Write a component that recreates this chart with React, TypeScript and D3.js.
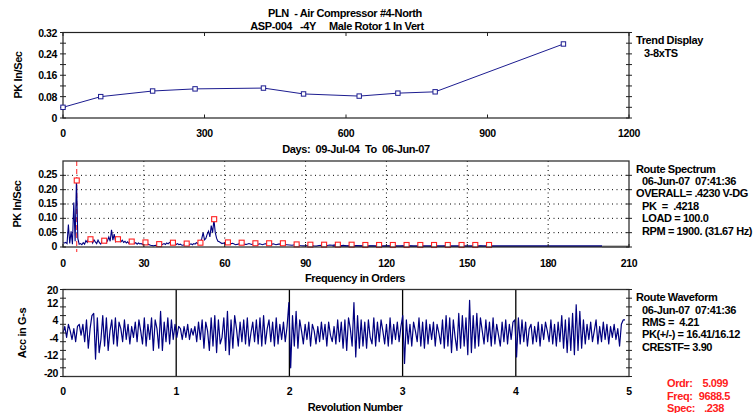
import * as React from "react";
import * as d3 from "d3";

// ---- trend panel data ----
const trendDays = [0, 80, 190, 280, 425, 510, 628, 710, 789, 1061];
const trendPk = [0.04, 0.08, 0.101, 0.109, 0.112, 0.09, 0.082, 0.093, 0.098, 0.277];
const trendYTicks = [0, 0.08, 0.16, 0.24, 0.32];
const trendXTicks = [0, 300, 600, 900, 1200];

// ---- spectrum data (orders 0..60 every 0.5, then 61..200 every 1) ----
const specLow = [
  0.015, 0.014, 0.016, 0.012, 0.078, 0.012, 0.055, 0.01, 0.155, 0.02,
  0.238, 0.03, 0.01, 0.012, 0.008, 0.015, 0.01, 0.022, 0.016, 0.03,
  0.024, 0.028, 0.014, 0.025, 0.018, 0.012, 0.024, 0.015, 0.01, 0.02,
  0.016, 0.025, 0.014, 0.022, 0.035, 0.02, 0.06, 0.024, 0.045, 0.02,
  0.032, 0.022, 0.026, 0.018, 0.024, 0.016, 0.02, 0.014, 0.018, 0.012,
  0.02, 0.014, 0.017, 0.012, 0.015, 0.01, 0.014, 0.011, 0.012, 0.009,
  0.014, 0.015, 0.011, 0.01, 0.008, 0.006, 0.005, 0.004, 0.005, 0.006,
  0.005, 0.007, 0.006, 0.008, 0.01, 0.012, 0.009, 0.014, 0.011, 0.016,
  0.013, 0.015, 0.012, 0.014, 0.009, 0.012, 0.008, 0.01, 0.007, 0.006,
  0.008, 0.01, 0.007, 0.006, 0.009, 0.011, 0.008, 0.012, 0.01, 0.015,
  0.012, 0.016, 0.018, 0.03, 0.05, 0.025, 0.03, 0.045, 0.055, 0.035,
  0.075, 0.05, 0.095, 0.05, 0.03, 0.02, 0.018, 0.015, 0.012, 0.014,
  0.012,
];
const specHigh = [
  0.014, 0.011, 0.013, 0.008, 0.01, 0.013, 0.01, 0.009, 0.012, 0.009,
  0.012, 0.009, 0.011, 0.008, 0.011, 0.012, 0.009, 0.011, 0.008, 0.01,
  0.011, 0.009, 0.008, 0.007, 0.006, 0.008, 0.007, 0.005, 0.004, 0.004,
  0.005, 0.006, 0.004, 0.003, 0.005, 0.006, 0.004, 0.005, 0.007, 0.006,
  0.008, 0.005, 0.004, 0.006, 0.004, 0.003, 0.004, 0.003, 0.005, 0.004,
  0.003, 0.003, 0.002, 0.003, 0.003, 0.002, 0.003, 0.002, 0.002, 0.003,
  0.003, 0.002, 0.003, 0.002, 0.002, 0.003, 0.002, 0.002, 0.003, 0.002,
  0.002, 0.002, 0.003, 0.002, 0.002, 0.002, 0.003, 0.002, 0.002, 0.002,
  0.002, 0.003, 0.002, 0.002, 0.002, 0.002, 0.002, 0.003, 0.002, 0.002,
  0.002, 0.002, 0.002, 0.002, 0.003, 0.002, 0.002, 0.002, 0.002, 0.002,
  0.002, 0.002, 0.002, 0.002, 0.002, 0.002, 0.002, 0.002, 0.002, 0.002,
  0.002, 0.002, 0.002, 0.002, 0.002, 0.002, 0.002, 0.002, 0.002, 0.002,
  0.002, 0.002, 0.002, 0.002, 0.002, 0.002, 0.002, 0.002, 0.002, 0.002,
  0.002, 0.002, 0.002, 0.002, 0.002, 0.002, 0.002, 0.002, 0.002, 0.002,
];
const runOrder = 5.099;
const harmonicAmps = [
  0.232, 0.027, 0.022, 0.027, 0.019, 0.016, 0.01, 0.015, 0.012, 0.015,
  0.097, 0.016, 0.015, 0.013, 0.013, 0.013, 0.009, 0.008, 0.008, 0.008,
  0.008, 0.007, 0.007, 0.007, 0.007, 0.007, 0.007, 0.007, 0.007, 0.007,
  0.007,
];
const specYTicks = [0, 0.05, 0.1, 0.15, 0.2, 0.25];
const specXTicks = [0, 30, 60, 90, 120, 150, 180, 210];

// ---- waveform data (G-s), 5 revolutions ----
const wave = [
  // rev 1
  0, 3, -2, 4, 1, -3, 2, -4, 3, 4, -1, 4, -4, 6, -7, 2, 8, 9, -12, 7, -9, -3, 8, -6,
  7, -8, 1, 6, -5, 7, -6, 5, 2, -4, 6, -3, 4, -5, 3, -2, 5, -4, 6, 1, -5, 7, -6,
  4, -3, 7, -8, 6, 2, -7, 10, -8, 5, -4, 7, -5, 6, -3, 4, -2, 3,
  // rev 2
  2, -3, 3, -2, 4, -3, 2, -1, 3, -4, 5, -3,
  6, -7, 5, 1, -8, 7, -6, 8, -9, 6, -5, -2, 7, -8, 10, -10, 6, -7, 8, 2, -6, 5, -4,
  6, -5, 7, -6, 0, 5, -4, 6, -5, 7, -6, 8, -5, 2, 6, -4, 5, -6, 7, -5, 4, -3, 5, -4, 3, 14, -16,
  // rev 3
  8, -6, 10, -7, 6, 1,
  -5, 4, -3, 5, -6, 4, 1, -5, 3, -4, 5, -3, 4, -6, 5, -1, -4, 3, -5, 6, -4, 5,
  -7, 6, -8, 7, 2, -6, 14, -11, 8, -7, 6,
  -6, 5, -7, 6, -2, -5, 7, -6, 5, -4, 6, 1, -5, 4, -6, 7, -5, 4, -3, 5, -4, 3, 8, -14,
  // rev 4
  6, -5, 4, -6, 5, 1, -4, 7, -6, 5, -7, 6, -5, 4, -3, 5, -6, 4, 0, -5, 6,
  -7, 8, -6, 7, -9, 6, -2, -8, 9, -7, 8, -6, 7, -10, 15, -9,
  8, -7, 9, -6, 7, 1, -5, 6, -4, 5, -6, 7, -5, 4, -1, -6, 5, -4, 6, -5, 4, -3, 5, 6, -11,
  // rev 5
  7, -5, 6, -4, 5, -6, 2, 4, -5, 3, -4, 5, -6, 4, -3, 5, 1, -4, 6, -5, 4, -6, 5, -4,
  8, -7, 6, -9, 7, -8, 9, -10, 13, -8, 10, -7, 6,
  -5, 4, -3, 5, -4, 1, 6, -5, 3, -4, 5, -3, 4, -5, 3, -2, 4, -3, 2, -6, 4,
  6, 6,
];
const waveYTicks = [20, 12, 4, -4, -12, -20];
const waveMinor = [20, 16, 12, 8, 4, 0, -4, -8, -12, -16, -20];
const revTicks = [0, 1, 2, 3, 4, 5];

const NAVY = "#000080";
const FONT = "'Liberation Sans', Arial, sans-serif";
const L = 63;
const R = 629;

const txt = (x: number, y: number, s: string, extra: any = {}) => (
  <text x={x} y={y} fontFamily={FONT} fontSize={11} fontWeight="bold"
    letterSpacing={-0.4} style={{ whiteSpace: "pre" }} {...extra}>{s}</text>
);

export default function App() {
  // trend scales
  const tx = d3.scaleLinear().domain([0, 1200]).range([L, R]);
  const ty = d3.scaleLinear().domain([0, 0.32]).range([118, 32.5]);
  const trendLine = d3.line<number>().x((d, i) => tx(trendDays[i])).y(d => ty(d))(trendPk) || "";

  // spectrum scales
  const sx = d3.scaleLinear().domain([0, 210]).range([L, R]);
  const sy = d3.scaleLinear().domain([0, 0.3]).range([247, 161]);
  const specPts: [number, number][] = [
    ...specLow.map((v, i) => [i * 0.5, v] as [number, number]),
    ...specHigh.map((v, i) => [61 + i, v] as [number, number]),
  ];
  const specLine = d3.line<[number, number]>().x(d => sx(d[0])).y(d => sy(d[1]))(specPts) || "";
  const lastOrder = specPts[specPts.length - 1][0];

  // waveform scales
  const wx = d3.scaleLinear().domain([0, wave.length - 1]).range([L, R - 4]);
  const wy = d3.scaleLinear().domain([-20, 20]).range([376.5, 289.5]);
  const waveLine = d3.line<number>().x((d, i) => wx(i)).y(d => wy(d))(wave) || "";
  const revX = d3.scaleLinear().domain([0, 5]).range([L, R]);

  const border = "#222";

  return (
    <svg width={755} height={413} style={{ position: "absolute", left: 0, top: 0, background: "#fff" }}>
      {/* titles */}
      {txt(345, 17, "PLN  - Air Compressor #4-North", { textAnchor: "middle" })}
      {txt(337, 30, "ASP-004   -4Y     Male Rotor 1 In Vert", { textAnchor: "middle" })}

      {/* ---- trend panel ---- */}
      <rect x={L} y={32.5} width={R - L} height={118 - 32.5} fill="none" stroke={border} strokeWidth={1.2} />
      {d3.range(0, 0.3201, 0.04).map(v => (
        <g key={"tt" + v}>
          <line x1={L - 3} x2={L + 3} y1={ty(v)} y2={ty(v)} stroke={border} />
          <line x1={R - 3} x2={R + 3} y1={ty(v)} y2={ty(v)} stroke={border} />
        </g>
      ))}
      {trendYTicks.map(v => txt(L - 6, ty(v) + 4, v === 0 ? "0" : String(v), { textAnchor: "end", key: "ty" + v, fontSize: 10.5 }))}
      {trendXTicks.map(v => (
        <g key={"tx" + v}>
          <line x1={tx(v)} x2={tx(v)} y1={32.5} y2={36} stroke={border} />
          <line x1={tx(v)} x2={tx(v)} y1={118} y2={114.5} stroke={border} />
          {txt(tx(v), 137, String(v), { textAnchor: "middle", fontSize: 10.5 })}
        </g>
      ))}
      <path d={trendLine} fill="none" stroke="#1c1c90" strokeWidth={1} />
      {trendPk.map((v, i) => (
        <rect key={"tp" + i} x={tx(trendDays[i]) - 2.2} y={ty(v) - 2.2} width={4.4} height={4.4}
          fill="#fff" stroke="#1c1c90" strokeWidth={1} />
      ))}
      {txt(18, 75, "PK In/Sec", { textAnchor: "middle", transform: "rotate(-90 18 75)", dy: 4 })}
      {txt(636, 44, "Trend Display")}
      {txt(644, 57, "3-8xTS")}
      {txt(356, 153, "Days:  09-Jul-04  To  06-Jun-07", { textAnchor: "middle" })}

      {/* ---- spectrum panel ---- */}
      {specYTicks.filter(v => v > 0).map(v => (
        <line key={"sg" + v} x1={L} x2={R} y1={sy(v)} y2={sy(v)} stroke="#000" strokeDasharray="1,3.5" />
      ))}
      {specXTicks.filter(v => v > 0 && v < 210).map(v => (
        <line key={"sgx" + v} x1={sx(v)} x2={sx(v)} y1={161} y2={247} stroke="#000" strokeDasharray="1,3.5" />
      ))}
      <line x1={sx(runOrder)} x2={sx(runOrder)} y1={161} y2={252} stroke="#ff2020" strokeDasharray="5,3" strokeWidth={1} />
      <path d={specLine} fill="none" stroke={NAVY} strokeWidth={1.1} />
      <line x1={sx(100)} x2={sx(lastOrder)} y1={246} y2={246} stroke={NAVY} strokeWidth={1.5} />
      <line x1={sx(lastOrder)} x2={R} y1={246.5} y2={246.5} stroke="#888" strokeWidth={2} />
      {harmonicAmps.map((v, i) => (
        <rect key={"hm" + i} x={sx(runOrder * (i + 1)) - 2.5} y={sy(v) - 2.5} width={5} height={5}
          fill="#fff" stroke="#ff2020" strokeWidth={1.1} />
      ))}
      <rect x={L} y={161} width={R - L} height={86} fill="none" stroke="#333" strokeWidth={1.3} />
      {specYTicks.map(v => (
        <g key={"st" + v}>
          <line x1={L - 3} x2={L + 3} y1={sy(v)} y2={sy(v)} stroke={border} />
          <line x1={R - 3} x2={R + 3} y1={sy(v)} y2={sy(v)} stroke={border} />
          {txt(L - 6, sy(v) + 3, v === 0 ? "0" : v.toFixed(2), { textAnchor: "end", fontSize: 10.5 })}
        </g>
      ))}
      {specXTicks.map(v => (
        <g key={"sx" + v}>
          <line x1={sx(v)} x2={sx(v)} y1={247} y2={244} stroke={border} />
          {txt(sx(v), 267, String(v), { textAnchor: "middle", fontSize: 10.5 })}
        </g>
      ))}
      {txt(17, 204, "PK In/Sec", { textAnchor: "middle", transform: "rotate(-90 17 204)", dy: 4 })}
      {txt(355, 282, "Frequency in Orders", { textAnchor: "middle" })}
      {txt(636, 173, "Route Spectrum")}
      {txt(642, 185, "06-Jun-07  07:41:36")}
      {txt(636, 197, "OVERALL= .4230 V-DG")}
      {txt(642, 210, "PK  =  .4218")}
      {txt(642, 222, "LOAD = 100.0")}
      {txt(642, 235, "RPM = 1900. (31.67 Hz)")}

      {/* ---- waveform panel ---- */}
      {revTicks.filter(v => v > 0 && v < 5).map(v => (
        <line key={"rv" + v} x1={revX(v)} x2={revX(v)} y1={289.5} y2={376.5} stroke="#000" strokeWidth={1.3} />
      ))}
      <path d={waveLine} fill="none" stroke={NAVY} strokeWidth={1.2} strokeLinejoin="round" />
      <rect x={L} y={289.5} width={R - L} height={87} fill="none" stroke="#333" strokeWidth={1.3} />
      {waveMinor.map(v => (
        <g key={"wm" + v}>
          <line x1={L - 3} x2={L + 3} y1={wy(v)} y2={wy(v)} stroke={border} />
          <line x1={R - 3} x2={R + 3} y1={wy(v)} y2={wy(v)} stroke={border} />
        </g>
      ))}
      {waveYTicks.map(v => txt(L - 5, v === 20 ? wy(v) + 4 : wy(v), String(v), { textAnchor: "end", key: "wy" + v, fontSize: 10.5 }))}
      {revTicks.map(v => txt(revX(v), 395, String(v), { textAnchor: "middle", key: "rx" + v, fontSize: 10.5 }))}
      {txt(22, 333, "Acc in G-s", { textAnchor: "middle", transform: "rotate(-90 22 333)", dy: 4 })}
      {txt(355, 411, "Revolution Number", { textAnchor: "middle" })}
      {txt(636, 301, "Route Waveform")}
      {txt(642, 314, "06-Jun-07  07:41:36")}
      {txt(642, 326, "RMS =  4.21")}
      {txt(642, 338, "PK(+/-) = 16.41/16.12")}
      {txt(642, 351, "CRESTF= 3.90")}

      {/* cursor readout */}
      {txt(667, 387, "Ordr:", { fill: "#ff2020" })}
      {txt(728, 387, "5.099", { fill: "#ff2020", textAnchor: "end" })}
      {txt(667, 400, "Freq:", { fill: "#ff2020" })}
      {txt(730, 400, "9688.5", { fill: "#ff2020", textAnchor: "end" })}
      {txt(667, 412, "Spec:", { fill: "#ff2020" })}
      {txt(724, 412, ".238", { fill: "#ff2020", textAnchor: "end" })}
    </svg>
  );
}
